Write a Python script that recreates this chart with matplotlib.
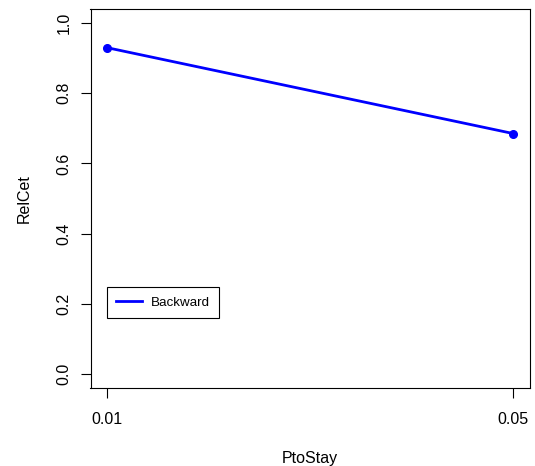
import matplotlib
matplotlib.use("Agg")
import matplotlib.pyplot as plt

plt.rcParams['font.family'] = ['Liberation Sans', 'DejaVu Sans']

pto_stay = [0.01, 0.05]
rel_cet = [0.930, 0.685]
series_name = "Backward"
x_ticks = [0.01, 0.05]
y_ticks = [0.0, 0.2, 0.4, 0.6, 0.8, 1.0]

W, H = 535, 466
fig = plt.figure(figsize=(W / 100, H / 100), dpi=100)
ax = fig.add_axes([90.5 / W, (H - 388) / H, (529.6 - 90.5) / W, (388 - 9) / H])

ax.plot(pto_stay, rel_cet, color='#0000FF', lw=2.0, marker='o', markersize=5.5,
        label=series_name)

ax.set_xlim(0.01 - 0.04 * 0.04, 0.05 + 0.04 * 0.04)
ax.set_ylim(-0.04, 1.04)
ax.set_xticks(x_ticks)
ax.set_xticklabels([f"{v:.2f}" for v in x_ticks])
ax.set_yticks(y_ticks)
ax.set_yticklabels([f"{v:.1f}" for v in y_ticks], rotation=90, va='center')

ax.tick_params(axis='both', direction='out', length=7.5, width=0.8, labelsize=11.5,
               pad=6)
ax.tick_params(axis='x', pad=10)
for s in ax.spines.values():
    s.set_linewidth(0.8)

ax.set_xlabel("PtoStay", fontsize=11.5, labelpad=17)
ax.set_ylabel("RelCet", fontsize=11.5, labelpad=18)

leg = ax.legend(loc='lower left', bbox_to_anchor=((106.7 - 90.5) / (529.6 - 90.5),
                                                    (388 - 318.3) / (388 - 9)),
                borderaxespad=0, fancybox=False, edgecolor='black', framealpha=1,
                fontsize=9.6, handlelength=1.95, borderpad=0.7, handletextpad=0.65,
                numpoints=1)
leg.get_frame().set_linewidth(0.8)
for h in leg.legend_handles:
    h.set_marker('')

fig.savefig("out.png", dpi=100)
